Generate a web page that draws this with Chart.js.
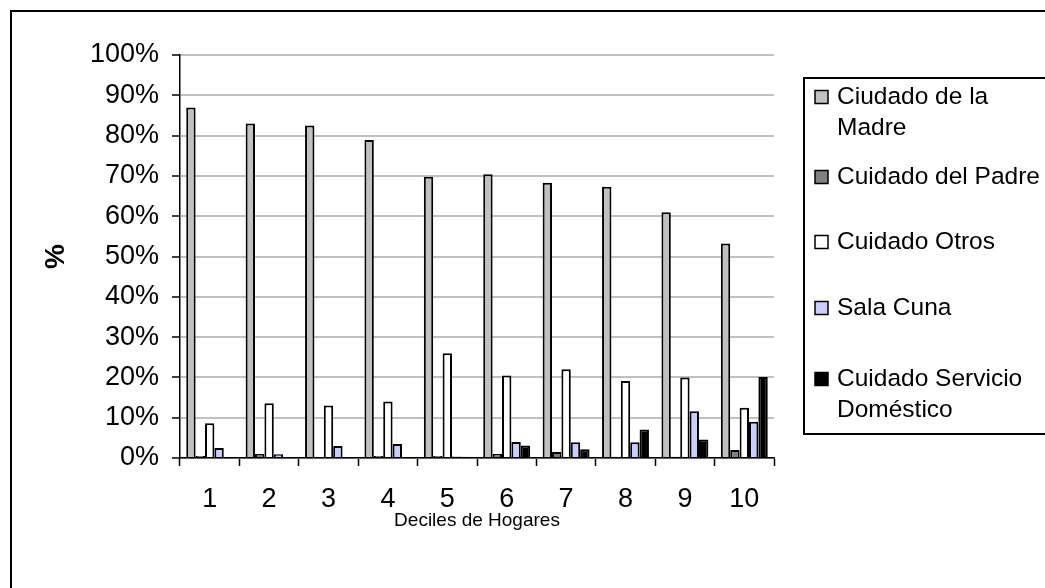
<!DOCTYPE html>
<html>
<head>
<meta charset="utf-8">
<title>Cuidado infantil por decil</title>
<script src="https://cdn.jsdelivr.net/npm/chart.js@4/dist/chart.umd.min.js"></script>
<style>
  html, body { margin: 0; padding: 0; background: #ffffff; }
  #wrap { width: 1045px; height: 588px; position: relative; }
  canvas { display: block; }
</style>
</head>
<body>
<div id="wrap"><canvas id="chart" width="1045" height="588"></canvas></div>
<script>
// Deciles de hogares (eje X)
const deciles = ['1', '2', '3', '4', '5', '6', '7', '8', '9', '10'];

// Porcentaje de niños según tipo de cuidado, por decil
const madre    = [87.0, 83.0, 82.5, 78.9, 69.8, 70.4, 68.3, 67.3, 61.0, 53.2];
const padre    = [0.5, 1.0, 0.2, 0.5, 0.5, 1.0, 1.5, 0.3, 0.3, 2.0];
const otros    = [8.6, 13.6, 13.0, 14.0, 26.0, 20.5, 22.0, 19.1, 20.0, 12.5];
const salaCuna = [2.5, 0.9, 3.0, 3.5, 0.4, 4.0, 3.9, 3.9, 11.6, 9.0];
const servicio = [0, 0, 0, 0, 0.3, 3.1, 2.2, 7.1, 4.6, 20.1];

// Nombres de las series y su texto en la leyenda (con saltos de línea)
const seriesNames = ['Ciudado de la Madre', 'Cuidado del Padre', 'Cuidado Otros', 'Sala Cuna', 'Cuidado Servicio Doméstico'];
const legendLines = [['Ciudado de la', 'Madre'], ['Cuidado del Padre'], ['Cuidado Otros'], ['Sala Cuna'], ['Cuidado Servicio', 'Doméstico']];

// Etiquetas del eje Y
const yTickLabels = ['0%', '10%', '20%', '30%', '40%', '50%', '60%', '70%', '80%', '90%', '100%'];

const FONT = "'Liberation Sans', Arial, sans-serif";
const fills = ['#c0c0c0', '#808080', '#ffffff', '#ccccff', '#000000'];
const seriesData = [madre, padre, otros, salaCuna, servicio];

// Marco exterior del gráfico
const framePlugin = {
  id: 'frame',
  beforeDraw(chart) {
    const ctx = chart.ctx;
    ctx.save();
    ctx.fillStyle = '#ffffff';
    ctx.fillRect(0, 0, chart.width, chart.height);
    ctx.strokeStyle = '#000000';
    ctx.lineWidth = 2;
    ctx.strokeRect(11, 11, chart.width + 40, chart.height + 40);
    ctx.restore();
  }
};

// Leyenda en recuadro a la derecha
const boxLegendPlugin = {
  id: 'boxLegend',
  afterDraw(chart) {
    const ctx = chart.ctx;
    const left = 804, top = 78, bottom = 434;
    const rowY = [97, 177, 242, 308, 379];
    const lineGap = 31;
    ctx.save();
    ctx.strokeStyle = '#000000';
    ctx.lineWidth = 2;
    ctx.strokeRect(left, top, chart.width - left + 40, bottom - top);
    ctx.font = '24.5px ' + FONT;
    ctx.textBaseline = 'middle';
    ctx.textAlign = 'left';
    chart.data.datasets.forEach((ds, i) => {
      const y = rowY[i];
      ctx.fillStyle = ds.backgroundColor;
      ctx.fillRect(815, y - 6.5, 13, 13);
      ctx.lineWidth = 1.5;
      ctx.strokeStyle = '#000000';
      ctx.strokeRect(815, y - 6.5, 13, 13);
      ctx.fillStyle = '#000000';
      legendLines[i].forEach((txt, k) => {
        ctx.fillText(txt, 837, y + k * lineGap);
      });
    });
    ctx.restore();
  }
};

new Chart(document.getElementById('chart'), {
  type: 'bar',
  data: {
    labels: deciles,
    datasets: seriesNames.map((name, i) => ({
      label: name,
      data: seriesData[i],
      backgroundColor: fills[i],
      borderColor: '#000000',
      borderWidth: 2,
      categoryPercentage: 0.79,
      barPercentage: 1.0
    }))
  },
  options: {
    responsive: false,
    animation: false,
    devicePixelRatio: 1,
    layout: { padding: { left: 10, top: 55, right: 271, bottom: 0 } },
    plugins: {
      legend: { display: false },
      tooltip: { enabled: false }
    },
    scales: {
      x: {
        grid: {
          offset: true,
          drawOnChartArea: false,
          drawTicks: true,
          tickLength: 8,
          tickColor: '#000000',
          tickWidth: 1.5
        },
        border: { display: true, color: '#000000', width: 1.5 },
        ticks: {
          color: '#000000',
          font: { family: FONT, size: 27 },
          padding: 17
        },
        title: {
          display: true,
          text: 'Deciles de Hogares',
          color: '#000000',
          font: { family: FONT, size: 19 },
          padding: { top: 0, bottom: 56 }
        },
        afterFit(scale) { scale.height = 130; }
      },
      y: {
        min: 0,
        max: 100,
        ticks: {
          stepSize: 10,
          color: '#000000',
          font: { family: FONT, size: 27 },
          padding: 13,
          callback: (value, index) => yTickLabels[index]
        },
        grid: {
          color: '#c0c0c0',
          lineWidth: 2,
          drawTicks: true,
          tickLength: 8,
          tickColor: '#000000',
          tickWidth: 1.5
        },
        border: { display: true, color: '#000000', width: 1.5 },
        title: {
          display: true,
          text: '%',
          color: '#000000',
          font: { family: FONT, size: 28, weight: 'bold' },
          padding: { top: 29, bottom: 0 }
        },
        afterFit(scale) { scale.width = 170; }
      }
    }
  },
  plugins: [framePlugin, boxLegendPlugin]
});
</script>
</body>
</html>
